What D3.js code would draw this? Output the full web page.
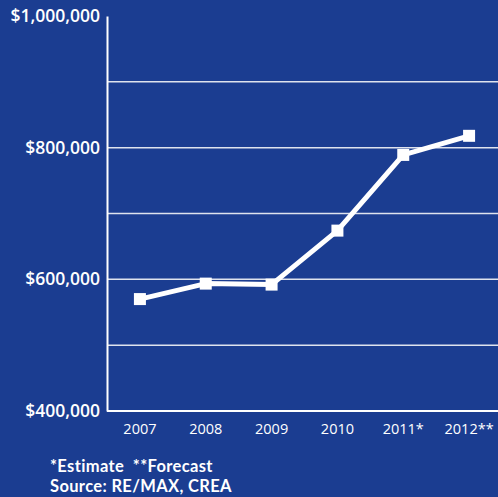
<!DOCTYPE html>
<html>
<head>
<meta charset="utf-8">
<script src="https://cdn.jsdelivr.net/npm/d3@7"></script>
<style>
  html, body { margin: 0; padding: 0; background: #1b3d91; }
  svg { display: block; }
  text { font-family: "Open Sans", "Noto Sans", sans-serif; fill: #ffffff; }
  text.note { font-family: Lato, "Open Sans", sans-serif; }
</style>
</head>
<body>
<svg id="chart" width="498" height="497"></svg>
<script>
// Average house price by year
const years = ["2007", "2008", "2009", "2010", "2011*", "2012**"];
const prices = [570000, 593500, 592000, 674000, 789000, 818000];
const yTickValues = [400000, 600000, 800000, 1000000];
const gridValues = [500000, 600000, 700000, 800000, 900000];
const footnotes = ["*Estimate\u00a0\u00a0**Forecast", "Source: RE/MAX, CREA"];

const W = 498, H = 497;
const m = { left: 107, right: 0, top: 16, bottom: 86 };

const svg = d3.select("#chart");
svg.append("rect").attr("width", W).attr("height", H).attr("fill", "#1b3d91");

const x = d3.scaleBand().domain(years).range([m.left, m.left + 395]);
const y = d3.scaleLinear().domain([400000, 1000000]).range([H - m.bottom, m.top]);

// horizontal gridlines
svg.append("g").selectAll("line").data(gridValues).join("line")
  .attr("x1", m.left).attr("x2", W)
  .attr("y1", d => y(d)).attr("y2", d => y(d))
  .attr("stroke", "#dfe3ee").attr("stroke-width", 1.5);

// y axis
const yAxis = svg.append("g").attr("transform", `translate(${m.left},0)`)
  .call(d3.axisLeft(y).tickValues(yTickValues).tickSize(0).tickPadding(7)
    .tickFormat(d => "$" + d3.format(",")(d)));
yAxis.select(".domain").attr("stroke", "#ffffff").attr("stroke-width", 2);
yAxis.selectAll("text").attr("font-size", 17.5).attr("font-weight", 600).attr("fill", "#ffffff");

// x axis
const xAxis = svg.append("g").attr("transform", `translate(0,${y(400000)})`)
  .call(d3.axisBottom(x).tickSize(0).tickPadding(13));
xAxis.select(".domain").attr("stroke", "#ffffff").attr("stroke-width", 2)
  .attr("d", `M${m.left},0H${W}`);
xAxis.selectAll("text").attr("font-size", 14.5).attr("fill", "#eef0f7");

// price line
const cx = d => x(d) + x.bandwidth() / 2;
svg.append("path")
  .datum(years.map((yr, i) => [cx(yr), y(prices[i])]))
  .attr("d", d3.line())
  .attr("fill", "none").attr("stroke", "#ffffff").attr("stroke-width", 5)
  .attr("stroke-linejoin", "round");

// square markers
const s = 12;
svg.append("g").selectAll("rect").data(years).join("rect")
  .attr("x", d => cx(d) - s / 2)
  .attr("y", (d, i) => y(prices[i]) - s / 2)
  .attr("width", s).attr("height", s)
  .attr("fill", "#ffffff");

// footnotes
svg.append("g").selectAll("text").data(footnotes).join("text")
  .attr("class", "note")
  .attr("x", 50).attr("y", (d, i) => 472 + i * 20)
  .attr("font-size", 16.5).attr("font-weight", 700)
  .attr("letter-spacing", 0.35)
  .text(d => d);
</script>
</body>
</html>
